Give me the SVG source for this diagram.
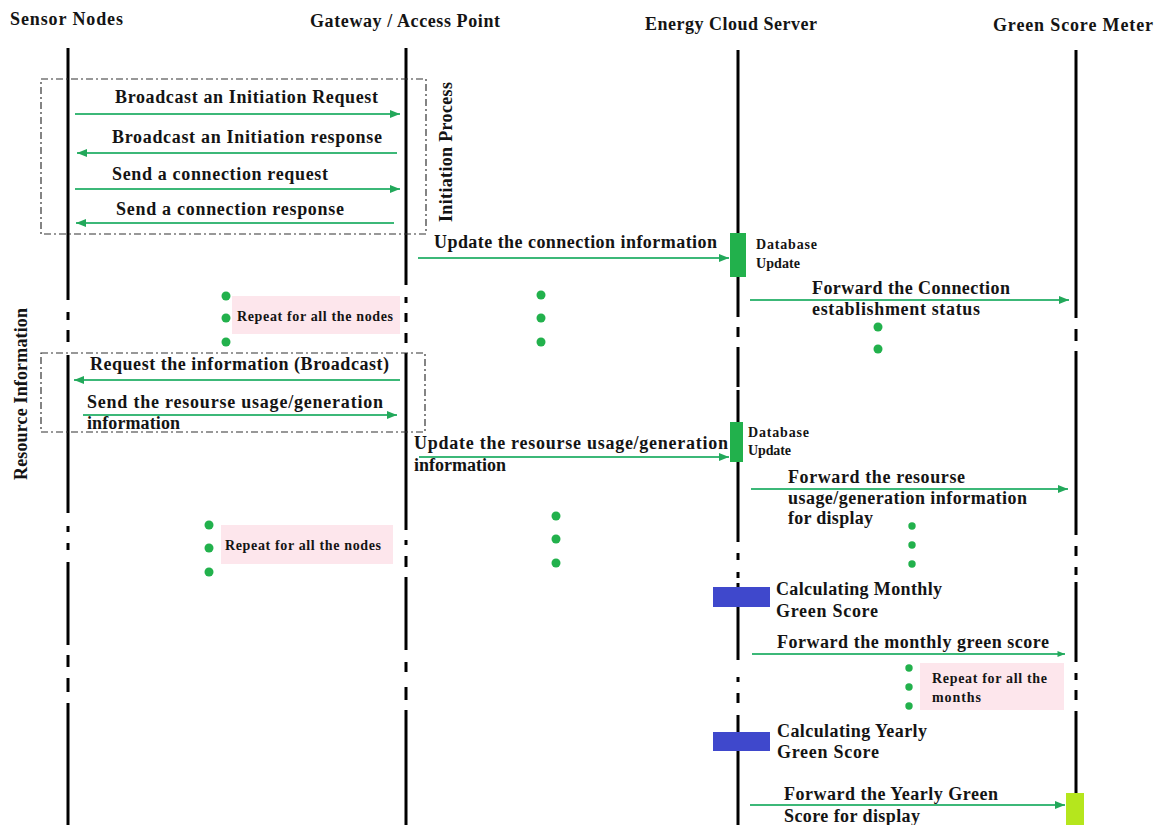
<svg xmlns="http://www.w3.org/2000/svg" width="1166" height="825" viewBox="0 0 1166 825">
<defs>
<style>
.t{font-family:"Liberation Serif","Times New Roman",serif;font-weight:bold;fill:#141414}
.h{font-size:18px}
.m{font-size:18px}
.s{font-size:14px}
.v{font-size:18px}
.life{stroke:#000;stroke-width:3;fill:none}
.msg{stroke:#3cb878;stroke-width:2;fill:none;marker-end:url(#ah)}
.msg2{stroke:#3cb878;stroke-width:2;fill:none;marker-end:url(#ahs)}
.frame{fill:none;stroke:#333;stroke-width:1.2;stroke-dasharray:7 3 2 3}
.dot{fill:#22b14c}
.note{fill:#fde6ec}
.db{fill:#22b14c}
.calc{fill:#3f48cc}
</style>
<marker id="ah" viewBox="0 0 10 8" refX="10" refY="4" markerWidth="10" markerHeight="8" markerUnits="userSpaceOnUse" orient="auto">
<path d="M0,0 L10,4 L0,8 Z" fill="#22a85a"/>
</marker>
<marker id="ahs" viewBox="0 0 10 8" refX="10" refY="4" markerWidth="8" markerHeight="6" markerUnits="userSpaceOnUse" orient="auto">
<path d="M0,0 L10,4 L0,8 Z" fill="#22a85a"/>
</marker>
</defs>
<rect width="1166" height="825" fill="#fff"/>

<g id="sensor-nodes">
<text class="t h" x="10" y="25" textLength="113" lengthAdjust="spacing">Sensor Nodes</text>
<path class="life" d="M68,48V300M68,312V320M68,330V342M68,355V513M68,526V532M68,543V550M68,562V645M68,655V667M68,678V692M68,703V825"/>
</g>

<g id="gateway">
<text class="t h" x="310" y="27" textLength="190" lengthAdjust="spacing">Gateway / Access Point</text>
<path class="life" d="M406,48V285M406,297V303M406,313V322M406,333V343M406,353V530M406,540V545M406,556V567M406,577V650M406,662V672M406,687V700M406,710V825"/>
</g>

<g id="energy-cloud-server">
<text class="t h" x="645" y="30" textLength="172" lengthAdjust="spacing">Energy Cloud Server</text>
<path class="life" d="M738,50V233M738,277V317M738,327V337M738,347V387M738,390V422M738,462V542M738,553V560M738,572V578M738,583V660M738,677V682M738,693V703M738,715V825"/>
<rect class="db" x="730" y="233" width="16" height="44"/>
<text class="t s" x="756" y="249" textLength="61" lengthAdjust="spacing">Database</text>
<text class="t s" x="756" y="268" textLength="44" lengthAdjust="spacing">Update</text>
<rect class="db" x="730" y="422" width="13" height="40"/>
<text class="t s" x="748" y="437" textLength="61" lengthAdjust="spacing">Database</text>
<text class="t s" x="748" y="455" textLength="43" lengthAdjust="spacing">Update</text>
<rect class="calc" x="713" y="587" width="57" height="20"/>
<text class="t m" x="776" y="595" textLength="166" lengthAdjust="spacing">Calculating Monthly</text>
<text class="t m" x="776" y="617" textLength="102" lengthAdjust="spacing">Green Score</text>
<rect class="calc" x="713" y="732" width="57" height="19"/>
<text class="t m" x="777" y="737" textLength="150" lengthAdjust="spacing">Calculating Yearly</text>
<text class="t m" x="777" y="758" textLength="102" lengthAdjust="spacing">Green Score</text>
</g>

<g id="green-score-meter">
<text class="t h" x="993" y="31" textLength="160" lengthAdjust="spacing">Green Score Meter</text>
<path class="life" d="M1076,50V318M1076,329V341M1076,351V535M1076,546V556M1076,567V575M1076,582V662M1076,673V680M1076,690V700M1076,711V793"/>
<rect x="1066" y="793" width="18" height="32" fill="#b5e61d"/>
</g>

<g id="initiation-process">
<rect class="frame" x="41" y="79" width="385" height="155"/>
<text class="t v" transform="translate(452,152) rotate(-90)" text-anchor="middle" textLength="140" lengthAdjust="spacing">Initiation Process</text>
</g>

<g id="resource-information">
<rect class="frame" x="41" y="353" width="384" height="79"/>
<text class="t v" transform="translate(27,394) rotate(-90)" text-anchor="middle" textLength="172" lengthAdjust="spacing">Resource Information</text>
</g>

<g id="repeat-nodes-1">
<rect class="note" x="232" y="296" width="168" height="38"/>
<text class="t s" x="237" y="321" textLength="156" lengthAdjust="spacing">Repeat for all the nodes</text>
<circle class="dot" cx="226" cy="296" r="4.5"/>
<circle class="dot" cx="226" cy="318" r="4.5"/>
<circle class="dot" cx="226" cy="342" r="4.5"/>
</g>

<g id="repeat-dots-1">
<circle class="dot" cx="541" cy="295" r="4.5"/>
<circle class="dot" cx="541" cy="318" r="4.5"/>
<circle class="dot" cx="541" cy="342" r="4.5"/>
<circle class="dot" cx="878" cy="327" r="4.5"/>
<circle class="dot" cx="878" cy="349" r="4.5"/>
</g>

<g id="repeat-nodes-2">
<rect class="note" x="221" y="525" width="172" height="39"/>
<text class="t s" x="225" y="550" textLength="156" lengthAdjust="spacing">Repeat for all the nodes</text>
<circle class="dot" cx="209" cy="525" r="4.5"/>
<circle class="dot" cx="209" cy="548" r="4.5"/>
<circle class="dot" cx="209" cy="572" r="4.5"/>
</g>

<g id="repeat-dots-2">
<circle class="dot" cx="556" cy="516" r="4.5"/>
<circle class="dot" cx="556" cy="539" r="4.5"/>
<circle class="dot" cx="556" cy="563" r="4.5"/>
<circle class="dot" cx="912" cy="526" r="3.7"/>
<circle class="dot" cx="912" cy="545" r="3.7"/>
<circle class="dot" cx="912" cy="564" r="3.7"/>
</g>

<g id="repeat-months">
<rect class="note" x="920" y="663" width="144" height="47"/>
<text class="t s" x="932" y="683" textLength="115" lengthAdjust="spacing">Repeat for all the</text>
<text class="t s" x="932" y="702" textLength="49" lengthAdjust="spacing">months</text>
<circle class="dot" cx="909" cy="668" r="3.7"/>
<circle class="dot" cx="909" cy="687" r="3.7"/>
<circle class="dot" cx="909" cy="706" r="3.7"/>
</g>

<g id="connectors">
<line class="msg" x1="75" y1="114" x2="400" y2="114"/>
<line class="msg" x1="397" y1="153" x2="77" y2="153"/>
<line class="msg" x1="75" y1="189" x2="400" y2="189"/>
<line class="msg" x1="394" y1="223" x2="76" y2="223"/>
<line class="msg" x1="418" y1="258" x2="729" y2="258"/>
<line class="msg" x1="750" y1="300" x2="1069" y2="300"/>
<line class="msg" x1="400" y1="380" x2="74" y2="380"/>
<line class="msg" x1="83" y1="415" x2="397" y2="415"/>
<line class="msg" x1="419" y1="457" x2="729" y2="457"/>
<line class="msg" x1="751" y1="489" x2="1068" y2="489"/>
<line class="msg2" x1="752" y1="654" x2="1065" y2="654"/>
<line class="msg" x1="750" y1="805" x2="1065" y2="805"/>
<text class="t m" x="115" y="103" textLength="263" lengthAdjust="spacing">Broadcast an Initiation Request</text>
<text class="t m" x="112" y="143" textLength="270" lengthAdjust="spacing">Broadcast an Initiation response</text>
<text class="t m" x="112" y="180" textLength="216" lengthAdjust="spacing">Send a connection request</text>
<text class="t m" x="116" y="215" textLength="228" lengthAdjust="spacing">Send a connection response</text>
<text class="t m" x="434" y="248" textLength="283" lengthAdjust="spacing">Update the connection information</text>
<text class="t m" x="812" y="294" textLength="198" lengthAdjust="spacing">Forward the Connection</text>
<text class="t m" x="812" y="315" textLength="168" lengthAdjust="spacing">establishment status</text>
<text class="t m" x="90" y="370" textLength="299" lengthAdjust="spacing">Request the information (Broadcast)</text>
<text class="t m" x="87" y="408" textLength="296" lengthAdjust="spacing">Send the resourse usage/generation</text>
<text class="t m" x="87" y="429" textLength="93" lengthAdjust="spacing">information</text>
<text class="t m" x="414" y="449" textLength="314" lengthAdjust="spacing">Update the resourse usage/generation</text>
<text class="t m" x="414" y="471" textLength="92" lengthAdjust="spacing">information</text>
<text class="t m" x="788" y="483" textLength="177" lengthAdjust="spacing">Forward the resourse</text>
<text class="t m" x="788" y="504" textLength="239" lengthAdjust="spacing">usage/generation information</text>
<text class="t m" x="788" y="524" textLength="85" lengthAdjust="spacing">for display</text>
<text class="t m" x="777" y="648" textLength="272" lengthAdjust="spacing">Forward the monthly green score</text>
<text class="t m" x="784" y="800" textLength="214" lengthAdjust="spacing">Forward the Yearly Green</text>
<text class="t m" x="784" y="822" textLength="136" lengthAdjust="spacing">Score for display</text>
</g>
</svg>
